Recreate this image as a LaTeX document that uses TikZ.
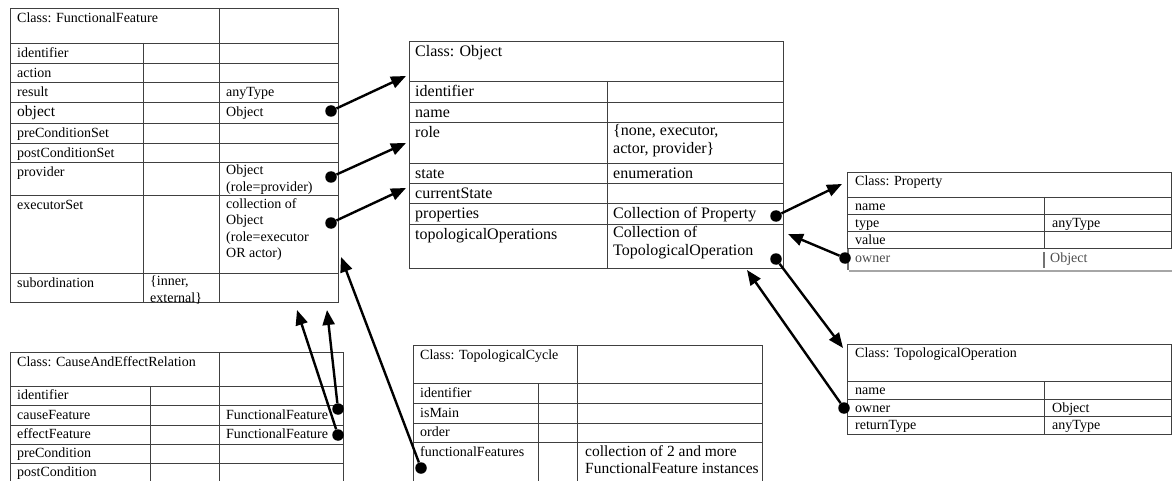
\documentclass[tikz,border=0pt]{standalone}
\usepackage{fontspec}
\setmainfont{Liberation Serif}
\usepackage{tikz}
\usetikzlibrary{arrows.meta}

\tikzset{
    rule/.style={draw=black!75, line width=0.7pt},
    cell/.style={anchor=north west, inner sep=0pt, align=left, font=\fontsize{14}{16.5}\selectfont, execute at begin node=\strut},
    bigcell/.style={cell, font=\fontsize{16}{18.5}\selectfont},
    midcell/.style={cell, font=\fontsize{15.5}{17.5}\selectfont},
    dot/.style={circle, fill=black, inner sep=0pt, minimum size=11.5pt},
    link/.style={line width=2.4pt, -{Triangle[length=15pt, width=12pt]}},
}

\begin{document}
\begin{tikzpicture}[x=1pt, y=-1pt]
    \useasboundingbox (0,0) rectangle (1172,481);

    \draw[rule] (10,8) rectangle (338,302)
        (10,43) -- (338,43) (10,63) -- (338,63) (10,82) -- (338,82) (10,102) -- (338,102)
        (10,123) -- (338,123) (10,143) -- (338,143) (10,162) -- (338,162) (10,195) -- (338,195)
        (10,273) -- (338,273) (143,43) -- (143,302) (219,8) -- (219,302);
    \node[cell] (ffTitle)    at (17,11)  {Class: FunctionalFeature};
    \node[cell] (ffIdent)    at (17,46)  {identifier};
    \node[cell] (ffAction)   at (17,66)  {action};
    \node[cell] (ffResult)   at (17,85)  {result};
    \node[midcell] (ffObject) at (17,104) {object};
    \node[cell] (ffPre)      at (17,126) {preConditionSet};
    \node[cell] (ffPost)     at (17,146) {postConditionSet};
    \node[cell] (ffProvider) at (17,165) {provider};
    \node[cell] (ffExec)     at (17,198) {executorSet};
    \node[cell] (ffSub)      at (17,276) {subordination};
    \node[cell] (ffSubVal)   at (150,276) {\{inner,\\external\}};
    \node[cell] (ffResultType)   at (226,85)  {anyType};
    \node[cell] (ffObjectType)   at (226,105) {Object};
    \node[cell] (ffProviderType) at (226,165) {Object\\(role=provider)};
    \node[cell] (ffExecType)     at (226,198) {collection of\\Object\\(role=executor\\OR actor)};

    \draw[rule] (409,41) rectangle (783,268)
        (409,81) -- (783,81) (409,102) -- (783,102) (409,122) -- (783,122) (409,163) -- (783,163)
        (409,183) -- (783,183) (409,203) -- (783,203) (409,224) -- (783,224) (607,81) -- (607,268);
    \node[bigcell] (objTitle)   at (415,43)  {Class: Object};
    \node[bigcell] (objIdent)   at (415,83)  {identifier};
    \node[bigcell] (objName)    at (415,104) {name};
    \node[bigcell] (objRole)    at (415,124) {role};
    \node[bigcell] (objState)   at (415,165) {state};
    \node[bigcell] (objCur)     at (415,185) {currentState};
    \node[bigcell] (objProps)   at (415,205) {properties};
    \node[bigcell] (objTopOps)  at (415,226) {topologicalOperations};
    \node[bigcell] (objRoleVal)    at (613,124) {\{none, executor,\\actor, provider\}};
    \node[bigcell] (objStateVal)   at (613,165) {enumeration};
    \node[bigcell] (objPropsType)  at (613,205) {Collection of Property};
    \node[bigcell] (objTopOpsType) at (613,226) {Collection of\\TopologicalOperation};

    \draw[rule] (847,248) -- (847,172) -- (1171.5,172) -- (1171.5,248)
        (847,197) -- (1171.5,197) (847,214) -- (1171.5,214) (847,231) -- (1171.5,231)
        (847,248) -- (1171.5,248) (1044,197) -- (1044,248);
    \draw[black!35, line width=1.5pt] (849,271) -- (1171.5,271);
    \draw[black!55, line width=1.5pt] (848,249) -- (848,270) (1044,252) -- (1044,268);
    \node[cell] (propTitle)     at (855,174) {Class: Property};
    \node[cell] (propName)      at (855,199) {name};
    \node[cell] (propType)      at (855,216) {type};
    \node[cell] (propValue)     at (855,233) {value};
    \node[cell, text=black!70] (propOwner)     at (855,251) {owner};
    \node[cell] (propTypeVal)   at (1052,216) {anyType};
    \node[cell, text=black!70] (propOwnerType) at (1050,251) {Object};

    \draw[rule] (847,344) rectangle (1171.5,434)
        (847,381) -- (1171.5,381) (847,399) -- (1171.5,399) (847,416) -- (1171.5,416)
        (1044,381) -- (1044,434);
    \node[cell] (topTitle)     at (855,346) {Class: TopologicalOperation};
    \node[cell] (topName)      at (855,383) {name};
    \node[cell] (topOwner)     at (855,401) {owner};
    \node[cell] (topRet)       at (855,418) {returnType};
    \node[cell] (topOwnerType) at (1052,401) {Object};
    \node[cell] (topRetType)   at (1052,418) {anyType};

    \draw[rule] (10,482) -- (10,352) -- (343,352) -- (343,482)
        (10,386) -- (343,386) (10,405) -- (343,405) (10,425) -- (343,425) (10,444) -- (343,444)
        (10,463) -- (343,463) (150,386) -- (150,482) (219,352) -- (219,482);
    \node[cell] (ceTitle)      at (17,355) {Class: CauseAndEffectRelation};
    \node[cell] (ceIdent)      at (17,388) {identifier};
    \node[cell] (ceCause)      at (17,408) {causeFeature};
    \node[cell] (ceEffect)     at (17,427) {effectFeature};
    \node[cell] (cePre)        at (17,446) {preCondition};
    \node[cell] (cePost)       at (17,465) {postCondition};
    \node[cell] (ceCauseType)  at (226,408) {FunctionalFeature};
    \node[cell] (ceEffectType) at (226,427) {FunctionalFeature};

    \draw[rule] (413,482) -- (413,345) -- (762,345) -- (762,482)
        (413,383) -- (762,383) (413,403) -- (762,403) (413,423) -- (762,423) (413,442) -- (762,442)
        (538,383) -- (538,482) (577,345) -- (577,482);
    \node[cell] (cycTitle)    at (420,348) {Class: TopologicalCycle};
    \node[cell] (cycIdent)    at (420,386) {identifier};
    \node[cell] (cycMain)     at (420,406) {isMain};
    \node[cell] (cycOrder)    at (420,425) {order};
    \node[cell] (cycFeat)     at (420,445) {functionalFeatures};
    \node[midcell] (cycFeatType) at (585,445) {collection of 2 and more\\FunctionalFeature instances};

    \node[dot] (ffObjDot)     at (331,111) {};
    \node[dot] (ffProvDot)    at (331,177) {};
    \node[dot] (ffExecDot)    at (331,223) {};
    \node[dot] (objPropsDot)  at (776,216) {};
    \node[dot] (objTopDot)    at (776,259) {};
    \node[dot] (propOwnerDot) at (845,258) {};
    \node[dot] (topOwnerDot)  at (844,408) {};
    \node[dot] (ceCauseDot)   at (338,409) {};
    \node[dot] (ceEffectDot)  at (338,435) {};
    \node[dot] (cycFeatDot)   at (421,468) {};

    \coordinate (tipObjHead)   at (406,76);
    \coordinate (tipObjRole)   at (406,143);
    \coordinate (tipObjCur)    at (406,188);
    \coordinate (tipProp)      at (842,184);
    \coordinate (tipObjSide)   at (788,234);
    \coordinate (tipTopOp)     at (843,348);
    \coordinate (tipObjBottom) at (747,270);
    \coordinate (tipFFa)       at (327,310);
    \coordinate (tipFFb)       at (297,310);
    \coordinate (tipFFc)       at (341,257);

    \draw[link] (ffObjDot) -- (tipObjHead);
    \draw[link] (ffProvDot) -- (tipObjRole);
    \draw[link] (ffExecDot) -- (tipObjCur);
    \draw[link] (objPropsDot) -- (tipProp);
    \draw[link] (propOwnerDot) -- (tipObjSide);
    \draw[link] (objTopDot) -- (tipTopOp);
    \draw[link] (topOwnerDot) -- (tipObjBottom);
    \draw[link] (ceCauseDot) -- (tipFFa);
    \draw[link] (ceEffectDot) -- (tipFFb);
    \draw[link] (cycFeatDot) -- (tipFFc);
\end{tikzpicture}
\end{document}
